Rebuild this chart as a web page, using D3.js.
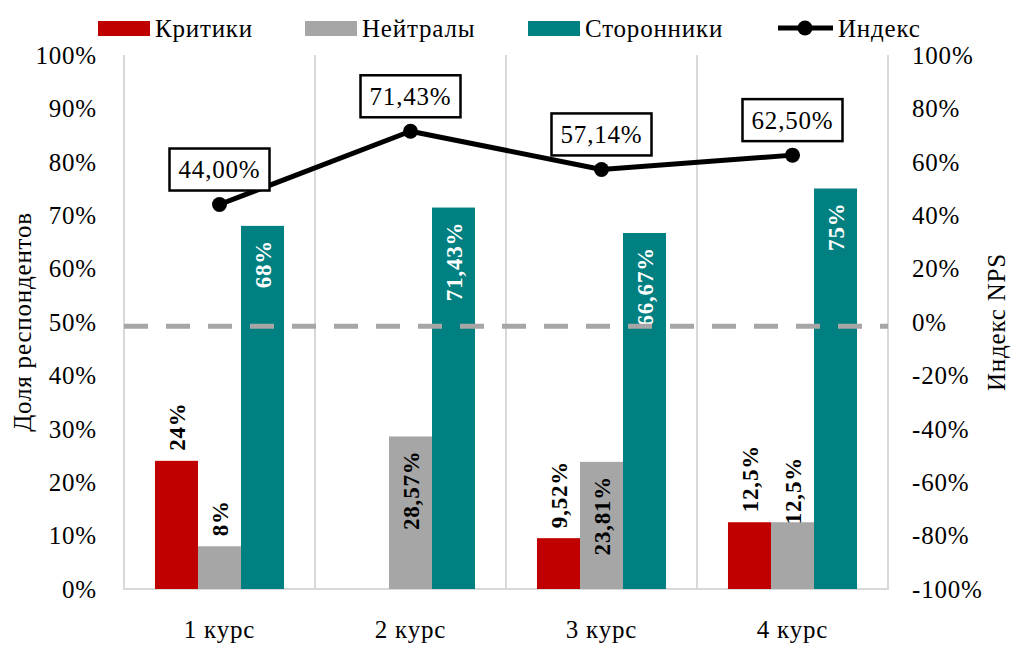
<html>
    <head>
        <meta charset="utf-8">
        <script src="https://d3js.org/d3.v7.min.js"></script>
        <style>
            body {
                margin: 0;
                background: white;
                font-family: "Palatino Linotype", "Book Antiqua", Palatino, "Liberation Serif", serif;
            }
            .tick-label {
                font-size: 25px;
                letter-spacing: 0.8px;
                fill: #000;
            }
            .bar-label {
                font-size: 23px;
                font-weight: bold;
                letter-spacing: 0.8px;
            }
        </style>
    </head>
    <body>
        <svg id="chart" width="1012" height="646"></svg>

        <script>
            // data
            const courses = ["1 курс", "2 курс", "3 курс", "4 курс"];
            const seriesNames = ["Критики", "Нейтралы", "Сторонники"];
            const critics = [24, 0, 9.52, 12.5];
            const neutrals = [8, 28.57, 23.81, 12.5];
            const promoters = [68, 71.43, 66.67, 75];
            const npsIndex = [44, 71.43, 57.14, 62.5];
            const leftTicks = [0, 10, 20, 30, 40, 50, 60, 70, 80, 90, 100];
            const rightTicks = [-100, -80, -60, -40, -20, 0, 20, 40, 60, 80, 100];
            const refLine = 49.2;   // dashed reference line, left axis %

            const colors = ["#C00000", "#A6A6A6", "#008080"];
            // where excel placed each bar label: "out" = above the bar, "in" = inside end
            const labelMode = [
                ["out", "out", "out", "out"],
                ["out", "in", "in", "edge"],
                ["in", "in", "in", "in"]
            ];

            const svg = d3.select("#chart");
            const plot = { left: 124, right: 888, top: 55, bottom: 589 };

            const x = d3.scaleBand().domain(courses).range([plot.left, plot.right]);
            const xs = d3.scaleBand().domain(seriesNames).range([0, x.bandwidth()])
                         .paddingInner(0).paddingOuter(0.72);
            const yL = d3.scaleLinear().domain([0, 100]).range([plot.bottom, plot.top]);
            const yR = d3.scaleLinear().domain([-100, 100]).range([plot.bottom, plot.top]);

            const pct = v => Math.round(v) + "%";
            const lblFmt = v => {
                let s = (Math.round(v * 100) / 100).toString().replace(".", ",");
                return s + "%";
            };
            const idxFmt = v => v.toFixed(2).replace(".", ",") + "%";

            // vertical separators between categories
            const seps = courses.map(c => x(c)).concat([x(courses[3]) + x.bandwidth()]);
            svg.selectAll("line.sep").data(seps)
               .join("line")
               .attr("class", "sep")
               .attr("x1", d => d).attr("x2", d => d)
               .attr("y1", plot.top).attr("y2", plot.bottom)
               .attr("stroke", "#D9D9D9")
               .attr("stroke-width", 2);

            svg.append("line")
               .attr("x1", plot.left - 1).attr("x2", plot.right + 1)
               .attr("y1", plot.bottom).attr("y2", plot.bottom)
               .attr("stroke", "#D9D9D9")
               .attr("stroke-width", 2);

            // bars
            const seriesData = [critics, neutrals, promoters];
            const bars = [];
            seriesData.forEach((vals, si) => {
                vals.forEach((v, ci) => {
                    bars.push({ s: seriesNames[si], si: si, c: courses[ci], ci: ci, v: v });
                });
            });

            svg.selectAll("rect.bar").data(bars.filter(d => d.v > 0))
               .join("rect")
               .attr("class", "bar")
               .attr("x", d => x(d.c) + xs(d.s))
               .attr("y", d => yL(d.v))
               .attr("width", xs.bandwidth())
               .attr("height", d => yL(0) - yL(d.v))
               .attr("fill", d => colors[d.si]);

            // bar labels (rotated)
            svg.selectAll("text.bar-label").data(bars.filter(d => d.v > 0))
               .join("text")
               .attr("class", "bar-label")
               .attr("transform", d => {
                   const cx = x(d.c) + xs(d.s) + xs.bandwidth() / 2;
                   const mode = labelMode[d.si][d.ci];
                   let ty;
                   if (mode === "out") ty = yL(d.v) - 10;
                   else if (mode === "edge") ty = yL(d.v) + 2;
                   else ty = yL(d.v) + 14;
                   return "translate(" + cx + "," + ty + ") rotate(-90)";
               })
               .attr("text-anchor", d => labelMode[d.si][d.ci] === "in" ? "end" : "start")
               .attr("dy", "0.35em")
               .attr("fill", d => d.si === 2 ? "white" : "black")
               .text(d => lblFmt(d.v));

            // dashed reference line
            svg.append("line")
               .attr("x1", plot.left).attr("x2", plot.right)
               .attr("y1", yL(refLine)).attr("y2", yL(refLine))
               .attr("stroke", "#A6A6A6")
               .attr("stroke-width", 5)
               .attr("stroke-dasharray", "24,18")
               .attr("stroke-dashoffset", 0);

            // index line
            const cxOf = i => x(courses[i]) + x.bandwidth() / 2;
            const line = d3.line().x((d, i) => cxOf(i)).y(d => yR(d));
            svg.append("path")
               .datum(npsIndex)
               .attr("d", line)
               .attr("fill", "none")
               .attr("stroke", "black")
               .attr("stroke-width", 5)
               .attr("stroke-linejoin", "round");

            svg.selectAll("circle.pt").data(npsIndex)
               .join("circle")
               .attr("class", "pt")
               .attr("cx", (d, i) => cxOf(i))
               .attr("cy", d => yR(d))
               .attr("r", 7.5)
               .attr("fill", "black");

            // index labels in boxes
            const boxes = svg.selectAll("g.idx").data(npsIndex)
               .join("g")
               .attr("class", "idx")
               .attr("transform", (d, i) => "translate(" + cxOf(i) + "," + (yR(d) - 35) + ")");
            boxes.append("rect")
               .attr("x", -50).attr("y", -21)
               .attr("width", 100).attr("height", 42)
               .attr("fill", "white")
               .attr("stroke", "black")
               .attr("stroke-width", 2.5);
            boxes.append("text")
               .attr("class", "tick-label")
               .attr("text-anchor", "middle")
               .attr("dy", "0.35em")
               .text(d => idxFmt(d));

            // left axis labels
            svg.selectAll("text.yl").data(leftTicks)
               .join("text")
               .attr("class", "tick-label yl")
               .attr("x", 97)
               .attr("y", d => yL(d))
               .attr("dy", "0.35em")
               .attr("text-anchor", "end")
               .text(d => pct(d));

            // right axis labels
            svg.selectAll("text.yr").data(rightTicks)
               .join("text")
               .attr("class", "tick-label yr")
               .attr("x", 912)
               .attr("y", d => yR(d))
               .attr("dy", "0.35em")
               .attr("text-anchor", "start")
               .text(d => pct(d));

            // category labels
            svg.selectAll("text.cat").data(courses)
               .join("text")
               .attr("class", "tick-label cat")
               .attr("x", d => x(d) + x.bandwidth() / 2)
               .attr("y", 629)
               .attr("dy", "0.35em")
               .attr("text-anchor", "middle")
               .text(d => d);

            // axis titles
            svg.append("text")
               .attr("class", "tick-label")
               .attr("transform", "translate(22,322) rotate(-90)")
               .attr("text-anchor", "middle")
               .attr("dy", "0.35em")
               .text("Доля респондентов");

            svg.append("text")
               .attr("class", "tick-label")
               .attr("transform", "translate(996,322) rotate(-90)")
               .attr("text-anchor", "middle")
               .attr("dy", "0.35em")
               .text("Индекс NPS");

            // legend
            const legend = svg.append("g").attr("transform", "translate(0,28)");
            const legendX = [98, 305, 528];
            seriesNames.forEach((name, i) => {
                legend.append("rect")
                      .attr("x", legendX[i]).attr("y", -7)
                      .attr("width", 52).attr("height", 15)
                      .attr("fill", colors[i]);
                legend.append("text")
                      .attr("class", "tick-label")
                      .attr("x", legendX[i] + 57)
                      .attr("dy", "0.35em")
                      .text(name);
            });
            legend.append("line")
                  .attr("x1", 778).attr("x2", 833)
                  .attr("y1", 0).attr("y2", 0)
                  .attr("stroke", "black").attr("stroke-width", 5);
            legend.append("circle")
                  .attr("cx", 805).attr("cy", 0).attr("r", 7.5)
                  .attr("fill", "black");
            legend.append("text")
                  .attr("class", "tick-label")
                  .attr("x", 838)
                  .attr("dy", "0.35em")
                  .text("Индекс");
        </script>
    </body>
</html>
